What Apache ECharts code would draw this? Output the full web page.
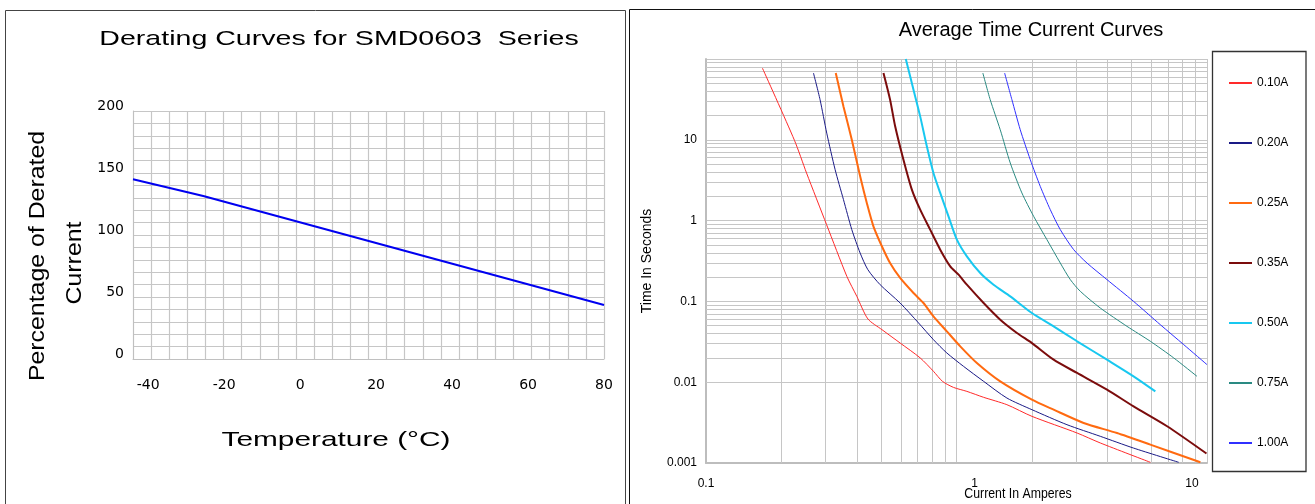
<!DOCTYPE html>
<html>
<head>
<meta charset="utf-8">
<script src="https://cdn.jsdelivr.net/npm/echarts@6/dist/echarts.min.js"></script>
<style>
html,body{margin:0;padding:0;background:#fff;}
#chart{width:1315px;height:504px;}
</style>
</head>
<body>
<div id="chart"></div>
<script>
// ---------- Left chart: derating ----------
const tempC = [-44, -25.5, 80];
const deratePct = [145, 131.5, 43.5];
const tempTickLabels = [-40, -20, 0, 20, 40, 60, 80];

// ---------- Right chart: time-current ----------
const ratings = ['0.10A', '0.20A', '0.25A', '0.35A', '0.50A', '0.75A', '1.00A'];
const curve010 = [[0.168,77],[0.2255,9.85],[0.252,3.88],[0.303,0.89],[0.365,0.204],[0.400,0.1155],[0.443,0.0606],[0.504,0.0447],[0.596,0.0305],[0.716,0.0200],[0.809,0.01365],[0.879,0.01025],[0.973,0.00862],[1.10,0.0077],[1.283,0.0065],[1.589,0.00527],[2.0,0.00378],[3.03,0.00235],[3.75,0.00177],[5.94,0.00102]];
const curve020 = [[0.2685,67.1],[0.2853,31.4],[0.3034,12.1],[0.3277,4.27],[0.3538,1.82],[0.382,0.773],[0.4124,0.397],[0.4427,0.247],[0.4956,0.161],[0.5957,0.0955],[0.7054,0.0541],[0.809,0.0336],[0.915,0.0230],[1.067,0.0157],[1.283,0.01025],[1.589,0.00637],[2.0,0.00457],[2.76,0.00298],[3.75,0.00214],[5.09,0.00153],[7.71,0.00102]];
const curve025 = [[0.3296,67.1],[0.3538,25.9],[0.382,10.0],[0.4124,3.53],[0.4385,1.65],[0.466,0.849],[0.5036,0.481],[0.543,0.2985],[0.5957,0.195],[0.6734,0.127],[0.738,0.0955],[0.809,0.0653],[0.915,0.0426],[1.035,0.0278],[1.206,0.0173],[1.495,0.01025],[2.0,0.00608],[2.442,0.00457],[3.218,0.00313],[4.373,0.00235],[5.94,0.00169],[9.41,0.00102]];
const curve035 = [[0.511,67.1],[0.543,31.4],[0.569,14.7],[0.614,5.68],[0.6634,2.42],[0.7162,1.365],[0.785,0.773],[0.861,0.437],[0.944,0.2716],[1.019,0.2143],[1.10,0.161],[1.283,0.0955],[1.495,0.0594],[1.743,0.0407],[2.0,0.0305],[2.442,0.0190],[3.03,0.0130],[3.988,0.00809],[5.09,0.00502],[6.93,0.00285],[9.95,0.00131]];
const curve050 = [[0.6275,100],[0.6734,41.7],[0.7162,19.5],[0.7613,8.3],[0.809,3.88],[0.861,2.2],[0.929,1.13],[1.0035,0.581],[1.10,0.361],[1.244,0.2245],[1.406,0.161],[1.639,0.1155],[2.0,0.0718],[2.442,0.0491],[3.03,0.0321],[3.988,0.0190],[5.09,0.01183],[6.22,0.0077]];
const curve075 = [[1.274,67.1],[1.363,31.4],[1.495,13.3],[1.639,5.17],[1.824,2.2],[2.032,1.13],[2.296,0.581],[2.596,0.2985],[2.847,0.186],[3.12,0.1334],[3.75,0.0828],[4.795,0.0491],[5.94,0.0321],[7.36,0.0200],[9.12,0.01183]];
const curve100 = [[1.556,67.1],[1.664,31.4],[1.797,13.3],[1.970,5.68],[2.16,2.65],[2.368,1.365],[2.596,0.773],[2.936,0.437],[3.318,0.2985],[3.988,0.186],[5.09,0.1002],[6.51,0.0515],[8.07,0.0292],[10.0,0.0165]];
const curves = [curve010, curve020, curve025, curve035, curve050, curve075, curve100];
const curveColors = ['#ff2a2a', '#1a1a86', '#ff6a10', '#7b0c0c', '#18c8f0', '#2a8a82', '#3030ff'];
const curveWidths = [1, 1, 2, 2, 2, 1, 1];

// log grid decades and minor steps
const xDecades = [0.1, 1];
const yDecades = [0.001, 0.01, 0.1, 1, 10];
const minorSteps = [2, 3, 4, 5, 6, 7, 8, 9];

function fmtNum(v) { return String(parseFloat(Number(v).toPrecision(6))); }

const minorLines = [];
xDecades.forEach(d => minorSteps.forEach(k => minorLines.push({ xAxis: parseFloat((d * k).toPrecision(6)) })));
yDecades.forEach(d => minorSteps.forEach(k => minorLines.push({ yAxis: parseFloat((d * k).toPrecision(6)) })));

const gridColor = '#c6c6c6';
const leftFont = 'DejaVu Sans';
const leftNameFont = 'Liberation Sans';
const rightFont = 'Liberation Sans';

const series = [{
  type: 'line', xAxisIndex: 0, yAxisIndex: 0,
  data: tempC.map((t, i) => [t, deratePct[i]]),
  symbol: 'none', silent: true,
  lineStyle: { color: '#0000f0', width: 2 }
}];
curves.forEach((c, i) => {
  const s = {
    name: ratings[i], type: 'line', xAxisIndex: 2, yAxisIndex: 1,
    data: c, symbol: 'none', smooth: 0.25, silent: true, z: 3,
    itemStyle: { color: curveColors[i] },
    lineStyle: { color: curveColors[i], width: curveWidths[i] }
  };
  if (i === 0) {
    s.markLine = {
      silent: true, symbol: ['none', 'none'], z: 1, animation: false,
      label: { show: false },
      lineStyle: { type: 'solid', color: gridColor, width: 1 },
      emphasis: { disabled: true },
      data: minorLines
    };
  }
  series.push(s);
});

const option = {
  animation: false,
  backgroundColor: '#ffffff',
  grid: [
    { left: 133, top: 111, width: 471, height: 248 },
    { left: 706, top: 59, width: 501, height: 404 }
  ],
  xAxis: [
    {
      gridIndex: 0, type: 'value', min: -44, max: 80,
      axisLabel: { customValues: tempTickLabels, fontFamily: leftFont, fontSize: 14, color: '#000', margin: 19 },
      axisTick: { show: false },
      axisLine: { show: true, onZero: false, lineStyle: { color: '#c0c0c0', width: 1 } },
      splitLine: { show: false }
    },
    {
      gridIndex: 0, type: 'value', min: 0, max: 26, interval: 1,
      axisLabel: { show: false }, axisTick: { show: false }, axisLine: { show: false },
      splitLine: { show: true, lineStyle: { color: gridColor, width: 1.2 } }
    },
    {
      gridIndex: 1, type: 'log', logBase: 10, min: 0.1, max: 10,
      axisLabel: {
        fontFamily: rightFont, fontSize: 12, color: '#000', margin: 15,
        formatter: v => {
          const s = fmtNum(v);
          if (s === '1') return '{one|1}';
          if (s === '10') return '{ten|10}';
          return s;
        },
        rich: {
          one: { fontFamily: rightFont, fontSize: 12, color: '#000', padding: [0, 0, 0, 36] },
          ten: { fontFamily: rightFont, fontSize: 12, color: '#000', padding: [0, 30, 0, 0] }
        }
      },
      axisTick: { show: false },
      axisLine: { show: true, onZero: false, lineStyle: { color: '#bdbdbd', width: 2 } },
      splitLine: { show: true, lineStyle: { color: gridColor, width: 1 } }
    }
  ],
  yAxis: [
    {
      gridIndex: 0, type: 'value', min: 0, max: 200, interval: 50,
      axisLabel: { fontFamily: leftFont, fontSize: 14, color: '#000', margin: 9, verticalAlign: 'bottom', lineHeight: 10 },
      axisTick: { show: false },
      axisLine: { show: true, onZero: false, lineStyle: { color: '#c0c0c0', width: 1 } },
      splitLine: { show: true, lineStyle: { color: gridColor, width: 1 } },
      minorTick: { show: false, splitNumber: 5 },
      minorSplitLine: { show: true, lineStyle: { color: gridColor, width: 1 } }
    },
    {
      gridIndex: 1, type: 'log', logBase: 10, min: 0.001, max: 100,
      name: 'Time In Seconds', nameLocation: 'middle', nameRotate: 90, nameGap: 52,
      nameTextStyle: { fontFamily: rightFont, fontSize: 14, color: '#000' },
      axisLabel: {
        fontFamily: rightFont, fontSize: 12, color: '#000', margin: 9,
        formatter: v => (v >= 99 ? '' : fmtNum(v))
      },
      axisTick: { show: false },
      axisLine: { show: true, onZero: false, lineStyle: { color: '#bdbdbd', width: 2 } },
      splitLine: { show: true, lineStyle: { color: gridColor, width: 1 } }
    }
  ],
  legend: {
    data: ratings, orient: 'vertical', left: 1228, top: 77,
    itemWidth: 23, itemHeight: 14, itemGap: 48, padding: 0,
    selectedMode: false,
    itemStyle: { opacity: 0, borderWidth: 0 },
    textStyle: { fontFamily: rightFont, fontSize: 12, color: '#000' }
  },
  graphic: [
    { type: 'rect', silent: true, shape: { x: 5.5, y: 10.5, width: 620, height: 520 }, style: { fill: 'none', stroke: '#444', lineWidth: 1 } },
    { type: 'polyline', silent: true, shape: { points: [[629.5, 520], [629.5, 9.5], [1320, 9.5]] }, style: { fill: 'none', stroke: '#111', lineWidth: 1 } },
    { type: 'rect', silent: true, shape: { x: 1212.5, y: 51.5, width: 93.5, height: 420 }, style: { fill: 'none', stroke: '#333', lineWidth: 1.3 } },
    { type: 'text', silent: true, x: 339, y: 39, scaleX: 1.36,
      style: { text: 'Derating Curves for SMD0603  Series', fontFamily: leftNameFont, fontSize: 21, fill: '#000', align: 'center', verticalAlign: 'middle', textAlign: 'center', textVerticalAlign: 'middle' } },
    { type: 'text', silent: true, x: 38, y: 256, rotation: Math.PI / 2, scaleX: 1.13,
      style: { text: 'Percentage of Derated', fontFamily: leftNameFont, fontSize: 22, fill: '#000', align: 'center', verticalAlign: 'middle', textAlign: 'center', textVerticalAlign: 'middle' } },
    { type: 'text', silent: true, x: 75, y: 263, rotation: Math.PI / 2, scaleX: 1.13,
      style: { text: 'Current', fontFamily: leftNameFont, fontSize: 22, fill: '#000', align: 'center', verticalAlign: 'middle', textAlign: 'center', textVerticalAlign: 'middle' } },
    { type: 'text', silent: true, x: 336, y: 440, scaleX: 1.42,
      style: { text: 'Temperature (°C)', fontFamily: leftNameFont, fontSize: 21, fill: '#000', align: 'center', verticalAlign: 'middle', textAlign: 'center', textVerticalAlign: 'middle' } },
    { type: 'text', silent: true, x: 1031, y: 30,
      style: { text: 'Average Time Current Curves', fontFamily: rightFont, fontSize: 20, fill: '#000', align: 'center', verticalAlign: 'middle', textAlign: 'center', textVerticalAlign: 'middle' } },
    { type: 'text', silent: true, x: 1018, y: 494, scaleX: 0.82,
      style: { text: 'Current In Amperes', fontFamily: rightFont, fontSize: 15, fill: '#000', align: 'center', verticalAlign: 'middle', textAlign: 'center', textVerticalAlign: 'middle' } }
  ],
  series: series
};

const chart = echarts.init(document.getElementById('chart'), null, { renderer: 'canvas' });
chart.setOption(option);
</script>
</body>
</html>
